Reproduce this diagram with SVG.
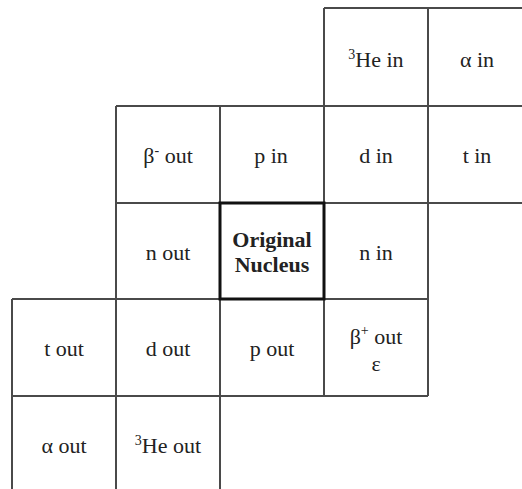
<svg xmlns="http://www.w3.org/2000/svg" width="522" height="489" viewBox="0 0 522 489">
<style>
.g{stroke:#4a4a4a;stroke-width:2;fill:none}
.o{fill:#fff;stroke:#111;stroke-width:3}
text{font-family:"Liberation Serif","Times New Roman",serif;font-size:22px;fill:#222;text-anchor:middle}
.b{font-weight:bold}
.s{font-size:14px}
</style>
<rect width="522" height="489" fill="#fff"/>
<g id="connectors">
<path class="g" d="M324,8H522 M116,106H522 M116,203H522 M12,299H428 M12,396H428 M12,299V489 M116,106V489 M220,106V489 M324,8V396 M428,8V396"/>
</g>
<g id="he3in"><text x="376" y="67"><tspan class="s" dy="-8">3</tspan><tspan dy="8">He in</tspan></text></g>
<g id="alphain"><text x="477" y="67">α in</text></g>
<g id="betaminusout"><text x="168" y="163">β<tspan class="s" dy="-8">-</tspan><tspan dy="8"> out</tspan></text></g>
<g id="pin"><text x="271" y="163">p in</text></g>
<g id="din"><text x="376" y="163">d in</text></g>
<g id="tin"><text x="477" y="163">t in</text></g>
<g id="nout"><text x="168" y="260">n out</text></g>
<g id="original"><rect class="o" x="220" y="203" width="104" height="96"/><text class="b" x="272" y="247">Original</text><text class="b" x="272" y="272">Nucleus</text></g>
<g id="nin"><text x="376" y="260">n in</text></g>
<g id="tout"><text x="64" y="356">t out</text></g>
<g id="dout"><text x="168" y="356">d out</text></g>
<g id="pout"><text x="272" y="356">p out</text></g>
<g id="betaplusout"><text x="376" y="344">β<tspan class="s" dy="-9">+</tspan><tspan dy="9"> out</tspan></text><text x="376" y="371">ε</text></g>
<g id="alphaout"><text x="64" y="453">α out</text></g>
<g id="he3out"><text x="168" y="453"><tspan class="s" dy="-8">3</tspan><tspan dy="8">He out</tspan></text></g>
</svg>
